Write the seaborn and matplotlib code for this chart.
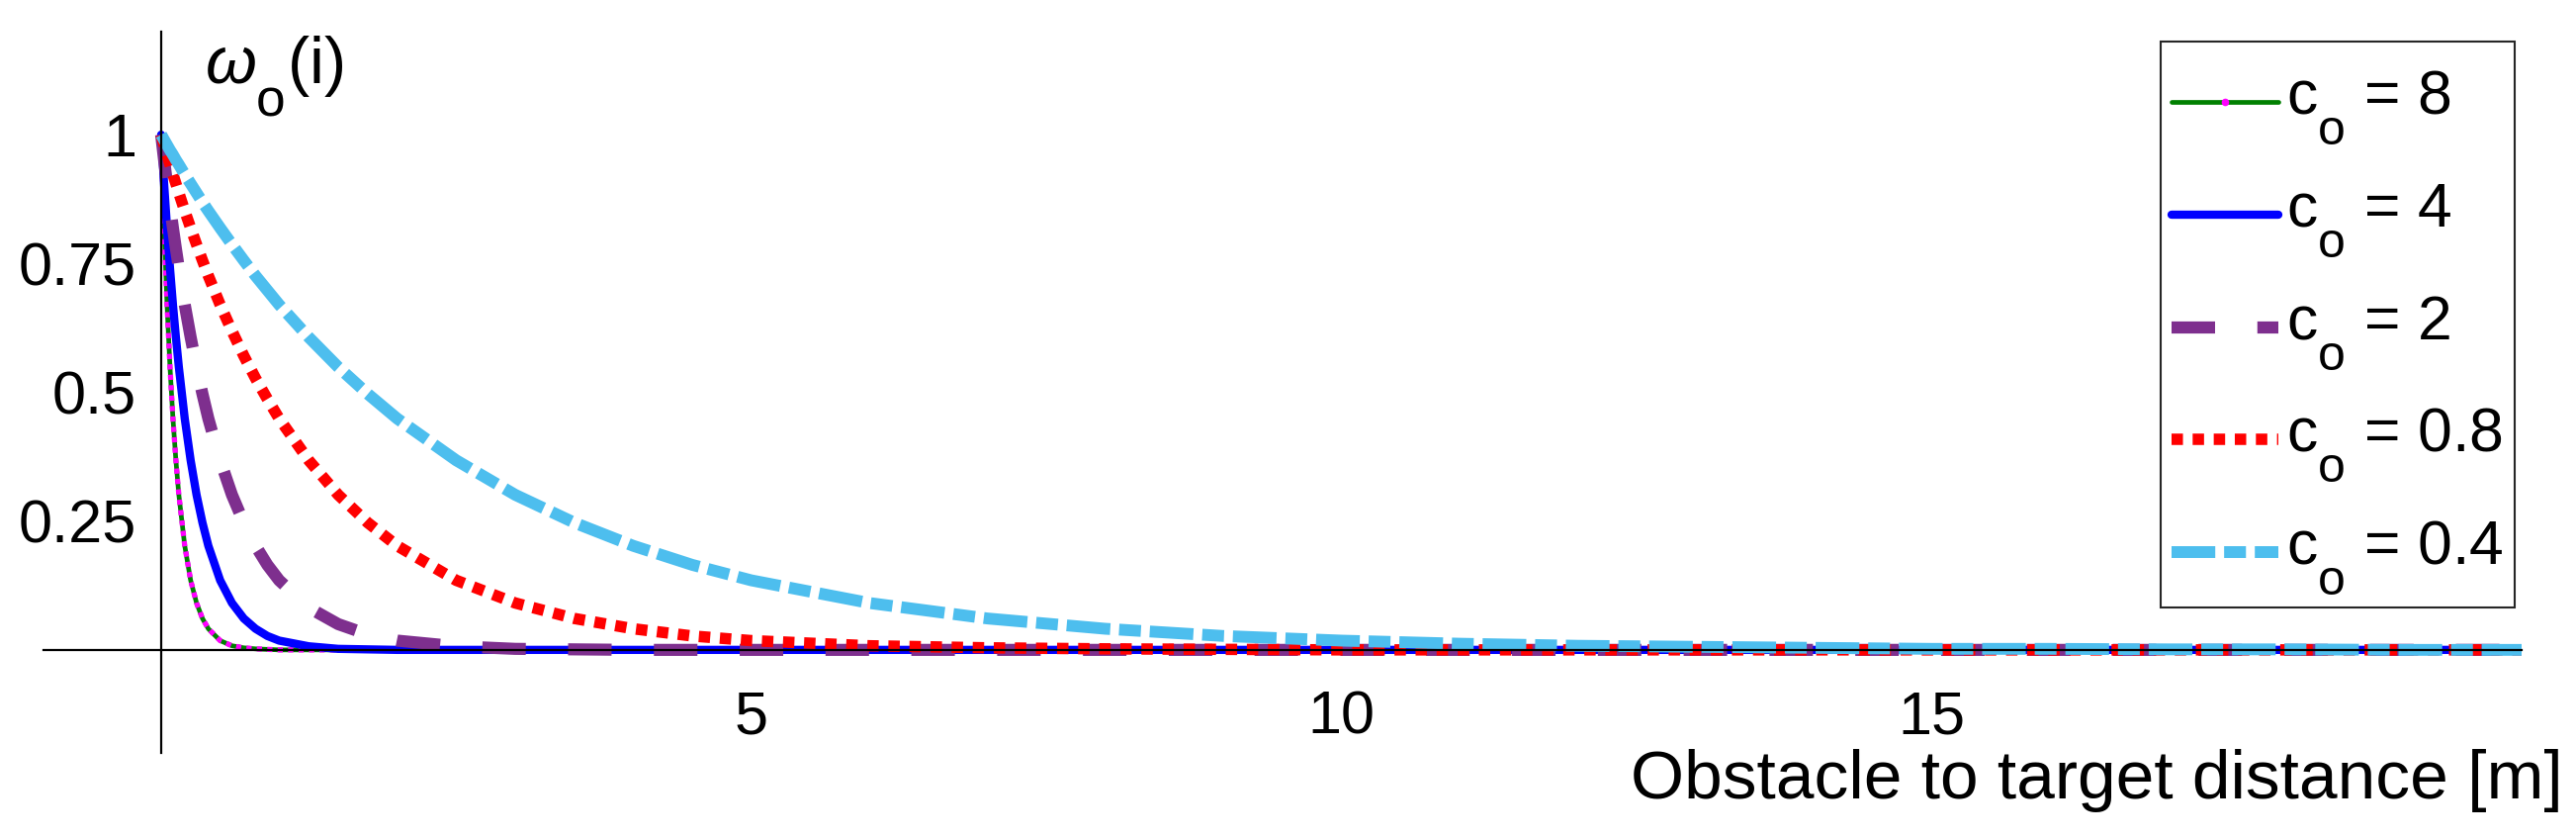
import matplotlib
matplotlib.use("Agg")
import matplotlib.pyplot as plt
from matplotlib.lines import Line2D
from matplotlib.legend_handler import HandlerLine2D
import seaborn as sns

# subscripts in the reference are larger and sit fully below the baseline
try:
    import matplotlib._mathtext as _mt
    _mt.SHRINK_FACTOR = 0.8
    _mt.FontConstantsBase.sub1 = 0.95
except Exception:
    pass

# ---------------- data ----------------
distance = [0, 0.025, 0.05, 0.075, 0.1, 0.125, 0.15, 0.2, 0.25, 0.3, 0.35, 0.4,
            0.5, 0.6, 0.7, 0.8, 0.9, 1.0, 1.25, 1.5, 1.75, 2.0, 2.5, 3, 3.5, 4,
            4.5, 5, 6, 7, 8, 9, 10, 11, 12, 13, 14, 15, 16, 17, 18, 19, 20]

w_c8 = [1.0, 0.819, 0.670, 0.549, 0.449, 0.368, 0.301, 0.202, 0.135, 0.091, 0.061, 0.041,
        0.018, 0.008, 0.004, 0.002, 0.001, 0.0, 0.0, 0.0, 0.0, 0.0, 0.0, 0.0, 0.0, 0.0,
        0.0, 0.0, 0.0, 0.0, 0.0, 0.0, 0.0, 0.0, 0.0, 0.0, 0.0, 0.0, 0.0, 0.0, 0.0, 0.0, 0.0]
w_c4 = [1.0, 0.905, 0.819, 0.741, 0.670, 0.607, 0.549, 0.449, 0.368, 0.301, 0.247, 0.202,
        0.135, 0.091, 0.061, 0.041, 0.027, 0.018, 0.007, 0.002, 0.001, 0.0, 0.0, 0.0, 0.0, 0.0,
        0.0, 0.0, 0.0, 0.0, 0.0, 0.0, 0.0, 0.0, 0.0, 0.0, 0.0, 0.0, 0.0, 0.0, 0.0, 0.0, 0.0]
w_c2 = [1.0, 0.951, 0.905, 0.861, 0.819, 0.779, 0.741, 0.670, 0.607, 0.549, 0.497, 0.449,
        0.368, 0.301, 0.247, 0.202, 0.165, 0.135, 0.082, 0.050, 0.030, 0.018, 0.007, 0.002, 0.001, 0.0,
        0.0, 0.0, 0.0, 0.0, 0.0, 0.0, 0.0, 0.0, 0.0, 0.0, 0.0, 0.0, 0.0, 0.0, 0.0, 0.0, 0.0]
w_c08 = [1.0, 0.980, 0.961, 0.942, 0.923, 0.905, 0.887, 0.852, 0.819, 0.787, 0.756, 0.726,
         0.670, 0.619, 0.571, 0.527, 0.487, 0.449, 0.368, 0.301, 0.247, 0.202, 0.135, 0.091, 0.061, 0.041,
         0.027, 0.018, 0.008, 0.004, 0.002, 0.001, 0.0, 0.0, 0.0, 0.0, 0.0, 0.0, 0.0, 0.0, 0.0, 0.0, 0.0]
w_c04 = [1.0, 0.990, 0.980, 0.970, 0.961, 0.951, 0.942, 0.923, 0.905, 0.887, 0.869, 0.852,
         0.819, 0.787, 0.756, 0.726, 0.698, 0.670, 0.607, 0.549, 0.497, 0.449, 0.368, 0.301, 0.247, 0.202,
         0.165, 0.135, 0.091, 0.061, 0.041, 0.027, 0.018, 0.012, 0.008, 0.006, 0.004, 0.002, 0.002, 0.001,
         0.001, 0.0, 0.0]

series_labels = [r"$\mathrm{c_o}$ = 8", r"$\mathrm{c_o}$ = 4", r"$\mathrm{c_o}$ = 2",
                 r"$\mathrm{c_o}$ = 0.8", r"$\mathrm{c_o}$ = 0.4"]
x_ticks = [5, 10, 15, 20]
x_tick_labels = ["5", "10", "15", ""]
y_ticks = [0.25, 0.5, 0.75, 1]
y_tick_labels = ["0.25", "0.5", "0.75", "1"]

# ---------------- style ----------------
sns.set_style("white")
plt.rcParams["font.family"] = ["Liberation Sans", "DejaVu Sans"]
plt.rcParams["mathtext.fontset"] = "custom"
plt.rcParams["mathtext.rm"] = "Liberation Sans"
plt.rcParams["mathtext.it"] = "Liberation Sans:italic"
plt.rcParams["mathtext.bf"] = "Liberation Sans:bold"
for key in ["text.color", "axes.labelcolor", "xtick.color", "ytick.color", "axes.edgecolor"]:
    plt.rcParams[key] = "black"

W, H = 2605, 847
fig = plt.figure(figsize=(W / 100, H / 100), dpi=100)
ax_left, ax_right = 43.6, 2550.0
ax_top, ax_bottom = 32.0, 761.0
ax = fig.add_axes([ax_left / W, 1 - ax_bottom / H, (ax_right - ax_left) / W, (ax_bottom - ax_top) / H])

green = "#008000"
magenta = "#FF00FF"
blue = "#0000FF"
purple = "#7E2F8E"
red = "#FF0000"
lightblue = "#4DBEEE"

# c_o = 8 : green line with magenta sample markers
sns.lineplot(x=distance, y=w_c8, color=green, linewidth=3.4, ax=ax, legend=False,
             errorbar=None, sort=False)
sns.lineplot(x=distance, y=w_c8, color=magenta, linewidth=3.8, linestyle=(0, (1.0, 1.0)),
             ax=ax, legend=False, errorbar=None, sort=False)
# c_o = 4
sns.lineplot(x=distance, y=w_c4, color=blue, linewidth=6.0, ax=ax, legend=False,
             errorbar=None, sort=False)
# c_o = 2
sns.lineplot(x=distance, y=w_c2, color=purple, linewidth=8.8, linestyle=(0, (3.6, 3.5)),
             ax=ax, legend=False, errorbar=None, sort=False)
# c_o = 0.8
sns.lineplot(x=distance, y=w_c08, color=red, linewidth=8.3, linestyle=(0, (1.0, 0.85)),
             ax=ax, legend=False, errorbar=None, sort=False)
# c_o = 0.4
sns.lineplot(x=distance, y=w_c04, color=lightblue, linewidth=8.6,
             linestyle=(0, (3.7, 0.75, 1.85, 0.75)),
             ax=ax, legend=False, errorbar=None, sort=False)

ax.set_xlim(-1.0, 20.0)
ax.set_ylim(-0.2, 1.2)
ax.set_xlabel("")
ax.set_ylabel("")
ax.grid(False)

for side in ["top", "right"]:
    ax.spines[side].set_visible(False)
ax.spines["left"].set_position(("data", 0))
ax.spines["bottom"].set_position(("data", 0))
for side in ["left", "bottom"]:
    ax.spines[side].set_linewidth(1.6)
    ax.spines[side].set_color("black")

ax.set_xticks(x_ticks)
ax.set_xticklabels(x_tick_labels)
ax.set_yticks(y_ticks)
ax.set_yticklabels(y_tick_labels)
ax.tick_params(axis="y", direction="in", length=18.7, width=1.5, pad=18,
               labelsize=44, colors="black")
ax.tick_params(axis="x", direction="in", length=18.7, width=0.8, pad=29,
               labelsize=44, colors="black")

# y-axis title (top, right of axis)
fig.text(207 / W, 1 - 84 / H, r"$\omega_\mathrm{o}$(i)", fontsize=48,
         ha="left", va="baseline", color="black")
# x-axis title (bottom right)
fig.text(2592 / W, 1 - 807 / H, "Obstacle to target distance [m]", fontsize=50,
         ha="right", va="baseline", color="black")


class LoweredLineHandler(HandlerLine2D):
    """Draw the legend sample a little lower, level with the middle of the text."""
    def __init__(self, drop=0.0, **kw):
        super().__init__(**kw)
        self.drop = drop

    def create_artists(self, legend, orig_handle, xdescent, ydescent, width, height,
                       fontsize, trans):
        return super().create_artists(legend, orig_handle, xdescent, ydescent + 2 * self.drop,
                                      width, height, fontsize, trans)


# legend
handles = [
    Line2D([], [], color=green, linewidth=3.4, marker="o", markersize=4.5,
           markerfacecolor=magenta, markeredgecolor=magenta),
    Line2D([], [], color=blue, linewidth=6.0),
    Line2D([], [], color=purple, linewidth=8.8, linestyle=(0, (3.6, 3.5))),
    Line2D([], [], color=red, linewidth=8.3, linestyle=(0, (1.0, 0.85))),
    Line2D([], [], color=lightblue, linewidth=8.6, linestyle=(0, (3.7, 0.75, 1.85, 0.75))),
]
drop_pts = 19.2 * 72 / 100  # pixels -> points
leg = fig.legend(handles, series_labels, loc="upper right",
                 bbox_to_anchor=(2543 / W, 1 - 42 / H),
                 fontsize=45, frameon=True, fancybox=False, shadow=False,
                 handlelength=1.728, handletextpad=0.13, borderpad=0.18,
                 handleheight=1.667, labelspacing=0.295, borderaxespad=0.0,
                 numpoints=1,
                 handler_map={Line2D: LoweredLineHandler(drop=drop_pts)})
for t in leg.get_texts():
    t.set_color("black")
frame = leg.get_frame()
frame.set_edgecolor("#262626")
frame.set_linewidth(1.5)
frame.set_facecolor("white")
frame.set_alpha(1.0)

fig.savefig("out.png", dpi=100)
